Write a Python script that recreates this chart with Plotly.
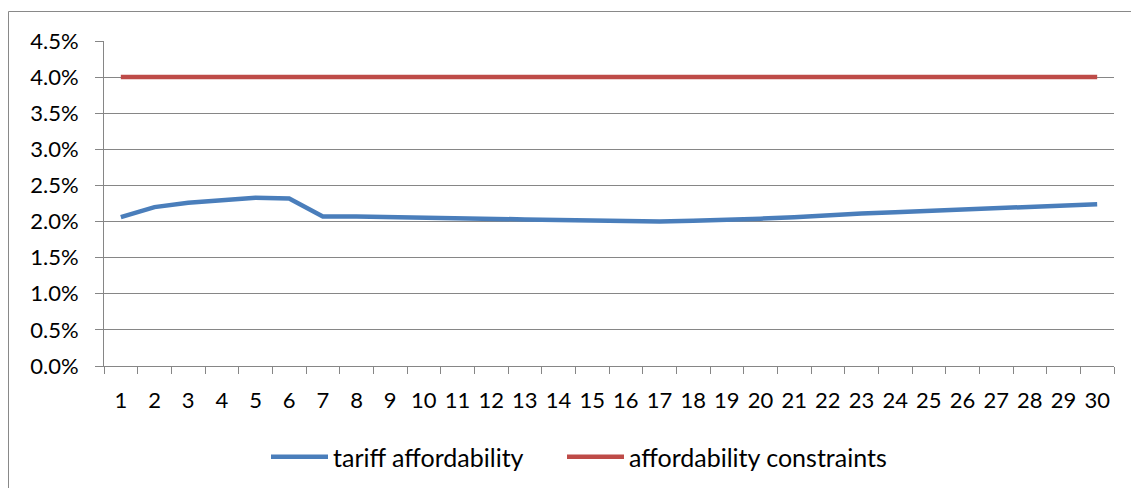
import plotly.graph_objects as go

years = [str(i) for i in range(1, 31)]
tariff_affordability = [0.0206, 0.0220, 0.0226, 0.0230, 0.0233, 0.0232, 0.0207, 0.0207, 0.02065, 0.0206,
                        0.0205, 0.0204, 0.0203, 0.0202, 0.0201, 0.0200, 0.0200, 0.0201, 0.0202, 0.0204,
                        0.0206, 0.0209, 0.0211, 0.0213, 0.0215, 0.0217, 0.0219, 0.0221, 0.0222, 0.0224]
affordability_constraints = [0.04] * 30

font_family = "Lato, Liberation Sans, Arial, sans-serif"
grid = "#868686"

fig = go.Figure()
fig.add_trace(go.Scatter(x=years, y=tariff_affordability, mode="lines", name="tariff affordability",
                         line=dict(color="#4A7EBB", width=4.5), legend="legend"))
fig.add_trace(go.Scatter(x=years, y=affordability_constraints, mode="lines", name="affordability constraints",
                         line=dict(color="#BE4B48", width=4.5), legend="legend2"))

L, R, T, B = 104, 17, 41, 122
W, H = 1131, 488
pw, ph = W - L - R, H - T - B

leg_common = dict(orientation="h", xanchor="left", y=(366 - 457) / ph, yanchor="middle",
                  font=dict(size=25), itemwidth=57, bgcolor="rgba(0,0,0,0)")

fig.update_layout(
    width=W, height=H,
    margin=dict(l=L, r=R, t=T, b=B, pad=0, autoexpand=False),
    paper_bgcolor="white", plot_bgcolor="white",
    font=dict(family=font_family, size=22, color="black"),
    showlegend=True,
    legend=dict(x=(266 - L) / pw, **leg_common),
    legend2=dict(x=(562 - L) / pw, **leg_common),
    xaxis=dict(type="category", range=[-0.5, 29.5], showgrid=False, showline=True, linecolor=grid, linewidth=1,
               ticks="outside", ticklen=7, tickcolor=grid, tickson="boundaries",
               tickangle=0, tickfont=dict(size=22), ticklabelstandoff=15, zeroline=False),
    yaxis=dict(range=[0, 0.045], dtick=0.005, tick0=0, tickformat=".1%", showgrid=True,
               gridcolor=grid, gridwidth=1, showline=True, linecolor=grid, linewidth=1,
               ticks="outside", ticklen=8, tickcolor=grid, tickfont=dict(size=22),
               ticklabelstandoff=12, zeroline=False),
    shapes=[dict(type="rect", xref="paper", yref="paper",
                 x0=(8.5 - L) / pw, x1=1.2, y0=-0.6, y1=(366 - 11.5) / ph,
                 line=dict(color="#898989", width=1), fillcolor="rgba(0,0,0,0)", layer="below")],
)

fig.write_html("out.html")
